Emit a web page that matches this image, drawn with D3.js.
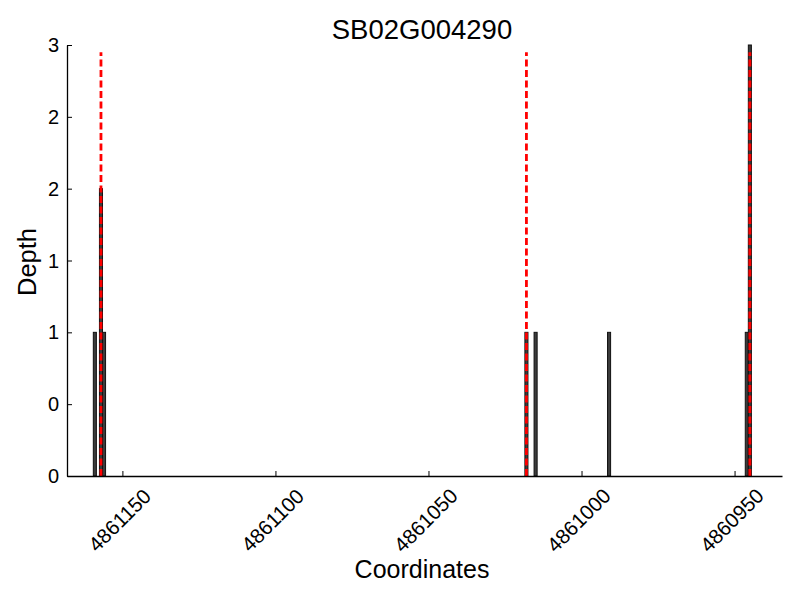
<!DOCTYPE html>
<html>
<head>
<meta charset="utf-8">
<script src="https://cdn.jsdelivr.net/npm/d3@7"></script>
<style>
  body { margin: 0; background: #fff; }
  text { font-family: "Liberation Sans", Arial, sans-serif; fill: #000; }
</style>
</head>
<body>
<svg width="800" height="600"></svg>
<script>
// read coverage per position
var positions = [4861159, 4861157, 4861156, 4861018, 4861015, 4860991, 4860946, 4860945];
var depths    = [1, 2, 1, 1, 1, 1, 1, 3];
// red dashed markers
var markers = [4861157, 4861018, 4860945];
var markerTop = 2.95;
var xTicks = [4861150, 4861100, 4861050, 4861000, 4860950];
var yTicks = [0, 0.5, 1, 1.5, 2, 2.5, 3];
var title = "SB02G004290";

var svg = d3.select("svg");
var padL = 67, padR = 782, padT = 45, padB = 476;

// reversed axis, coordinates go down left to right
var x = d3.scaleLinear().domain([4861168.1, 4860934.5]).range([padL, padR]);
var y = d3.scaleLinear().domain([0, 3]).range([padB, padT]);

var bars = positions.map(function(p, i) { return {pos: p, depth: depths[i]}; });

svg.append("g")
  .selectAll("rect")
  .data(bars)
  .enter().append("rect")
  .attr("x", function(d) { return x(d.pos + 0.5); })
  .attr("width", function(d) { return x(d.pos - 0.5) - x(d.pos + 0.5); })
  .attr("y", function(d) { return y(d.depth); })
  .attr("height", function(d) { return y(0) - y(d.depth); })
  .attr("fill", "#3c3c3c")
  .attr("stroke", "#111")
  .attr("stroke-width", 1);

svg.append("g")
  .selectAll("line")
  .data(markers)
  .enter().append("line")
  .attr("x1", function(d) { return x(d); })
  .attr("x2", function(d) { return x(d); })
  .attr("y1", y(0))
  .attr("y2", y(markerTop))
  .attr("stroke", "red")
  .attr("stroke-width", 2.8)
  .attr("stroke-dasharray", "7,3.5");

// axes, ticks point inward
var xAxis = d3.axisBottom(x).tickValues(xTicks).tickSizeInner(-5).tickSizeOuter(0).tickFormat("");
var gx = svg.append("g").attr("transform", "translate(0," + padB + ")").call(xAxis);
gx.select(".domain").attr("stroke-width", 1.3);

var yAxis = d3.axisLeft(y).tickValues(yTicks).tickSizeInner(-5).tickSizeOuter(0).tickFormat("");
var gy = svg.append("g").attr("transform", "translate(" + padL + ",0)").call(yAxis);
gy.select(".domain").attr("stroke-width", 1.3);

svg.append("g")
  .selectAll("text")
  .data(xTicks)
  .enter().append("text")
  .attr("transform", function(d) { return "translate(" + (x(d) - 3) + ",520) rotate(-45)"; })
  .attr("text-anchor", "middle")
  .attr("dominant-baseline", "central")
  .attr("font-size", 20.5)
  .text(function(d) { return d; });

svg.append("g")
  .selectAll("text")
  .data(yTicks)
  .enter().append("text")
  .attr("x", padL - 8)
  .attr("y", function(d) { return y(d); })
  .attr("text-anchor", "end")
  .attr("dominant-baseline", "central")
  .attr("font-size", 20)
  .text(function(d) { return Math.trunc(d); });

svg.append("text")
  .attr("x", 422).attr("y", 39)
  .attr("text-anchor", "middle")
  .attr("font-size", 27.5)
  .text(title);

svg.append("text")
  .attr("x", 422).attr("y", 578)
  .attr("text-anchor", "middle")
  .attr("font-size", 25)
  .text("Coordinates");

svg.append("text")
  .attr("transform", "translate(36,262) rotate(-90)")
  .attr("text-anchor", "middle")
  .attr("font-size", 25.5)
  .text("Depth");
</script>
</body>
</html>
